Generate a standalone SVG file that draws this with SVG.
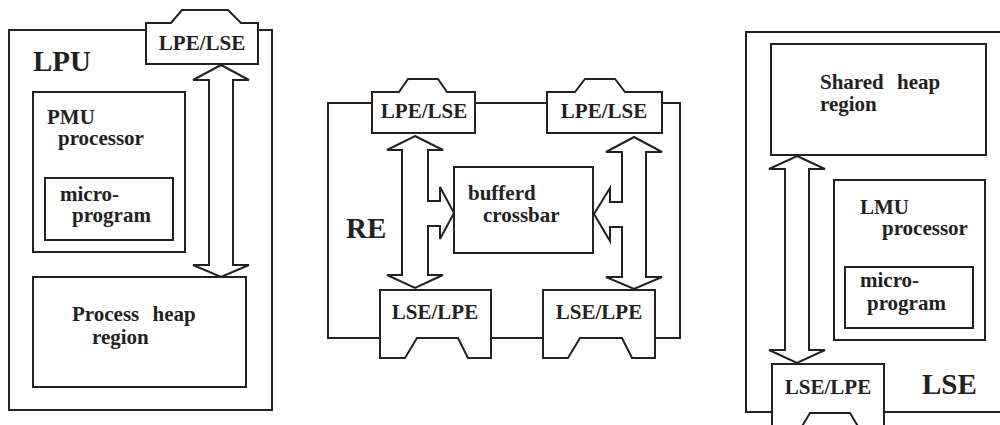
<svg xmlns="http://www.w3.org/2000/svg" width="1000" height="425" viewBox="0 0 1000 425">
<style>
.ln{fill:none;stroke:#222;stroke-width:2;stroke-linejoin:miter}
.wf{fill:#fff;stroke:#222;stroke-width:2;stroke-linejoin:miter}
.t{font-family:"Liberation Serif","Times New Roman",serif;font-weight:bold;font-size:21px;fill:#222}
.big{font-size:29px}
.c{text-anchor:middle}
.ws{word-spacing:8px}
</style>
<rect width="1000" height="425" fill="#fff"/>
<g id="connectors">
  <path class="ln" d="M380,338 H328 V103 H372 M475,103 H547 M662,103 H680 V338 H655 M491,338 H543"/>
  <path id="arrow-lpu" class="wf" d="M221,65 L249,80 H233 V265 H249 L221,277 L193,265 H209 V80 H193 Z"/>
  <path id="arrow-re-left" class="wf" d="M415,136 L443,150 H428 V201 H440 V187 L454,213 L440,239 V226 H428 V275 H443 L415,288 L387,275 H402 V150 H387 Z"/>
  <path id="arrow-re-right" class="wf" d="M634,137 L662,152 H646 V277 H662 L634,289 L606,277 H622 V227 H610 V241 L594,214 L610,188 V202 H622 V152 H606 Z"/>
  <path id="arrow-lse" class="wf" d="M797,156 L825,169 H809 V350 H825 L797,363 L769,350 H785 V169 H769 Z"/>
</g>
<g id="lpu">
  <rect class="ln" x="9" y="30" width="263" height="380"/>
  <text class="t big" x="33" y="71">LPU</text>
</g>
<g id="lpu-tag">
  <path class="wf" d="M146,64 V23 H171 L182,10 H228 L241,23 H258 V64 Z"/>
  <text class="t c" x="202" y="50">LPE/LSE</text>
</g>
<g id="pmu">
  <rect class="ln" x="33" y="92" width="152" height="160"/>
  <text class="t" x="47" y="124">PMU</text>
  <text class="t" x="58" y="145">processor</text>
</g>
<g id="pmu-micro">
  <rect class="ln" x="45" y="178" width="128" height="62"/>
  <text class="t" x="60" y="201">micro-</text>
  <text class="t" x="72" y="222">program</text>
</g>
<g id="process-heap">
  <rect class="ln" x="33" y="277" width="213" height="110"/>
  <text class="t ws" x="72" y="321">Process heap</text>
  <text class="t" x="92" y="344">region</text>
</g>
<g id="re">
  <text class="t big" x="346" y="238">RE</text>
</g>
<g id="re-tag-tl">
  <path class="wf" d="M372,133 V92 H399 L408,79 H438 L447,92 H475 V133 Z"/>
  <text class="t c" x="424" y="118">LPE/LSE</text>
</g>
<g id="re-tag-tr">
  <path class="wf" d="M547,133 V92 H575 L585,79 H615 L625,92 H662 V133 Z"/>
  <text class="t c" x="604" y="118">LPE/LSE</text>
</g>
<g id="re-tag-bl">
  <path class="wf" d="M380,358 V290 H491 V358 H468 L458,338 H417 L405,358 Z"/>
  <text class="t c" x="435" y="319">LSE/LPE</text>
</g>
<g id="re-tag-br">
  <path class="wf" d="M543,358 V290 H655 V358 H632 L622,338 H580 L568,358 Z"/>
  <text class="t c" x="599" y="319">LSE/LPE</text>
</g>
<g id="crossbar">
  <rect class="ln" x="454" y="167" width="139" height="86"/>
  <text class="t" x="468" y="200">bufferd</text>
  <text class="t" x="483" y="222">crossbar</text>
</g>
<g id="lse">
  <path class="ln" d="M1002,32 H746 V412 H1002"/>
  <text class="t big" x="922" y="394">LSE</text>
</g>
<g id="shared-heap">
  <rect class="ln" x="771" y="44" width="215" height="111"/>
  <text class="t ws" x="820" y="89">Shared heap</text>
  <text class="t" x="820" y="111">region</text>
</g>
<g id="lmu">
  <rect class="ln" x="834" y="180" width="151" height="160"/>
  <text class="t" x="860" y="214">LMU</text>
  <text class="t" x="882" y="235">processor</text>
</g>
<g id="lmu-micro">
  <rect class="ln" x="845" y="267" width="128" height="61"/>
  <text class="t" x="860" y="287">micro-</text>
  <text class="t" x="867" y="310">program</text>
</g>
<g id="lse-tag">
  <path class="wf" d="M772,433 V364 H884 V433 H862 L850,413 H810 L798,433 Z"/>
  <text class="t c" x="828" y="394">LSE/LPE</text>
</g>
</svg>
